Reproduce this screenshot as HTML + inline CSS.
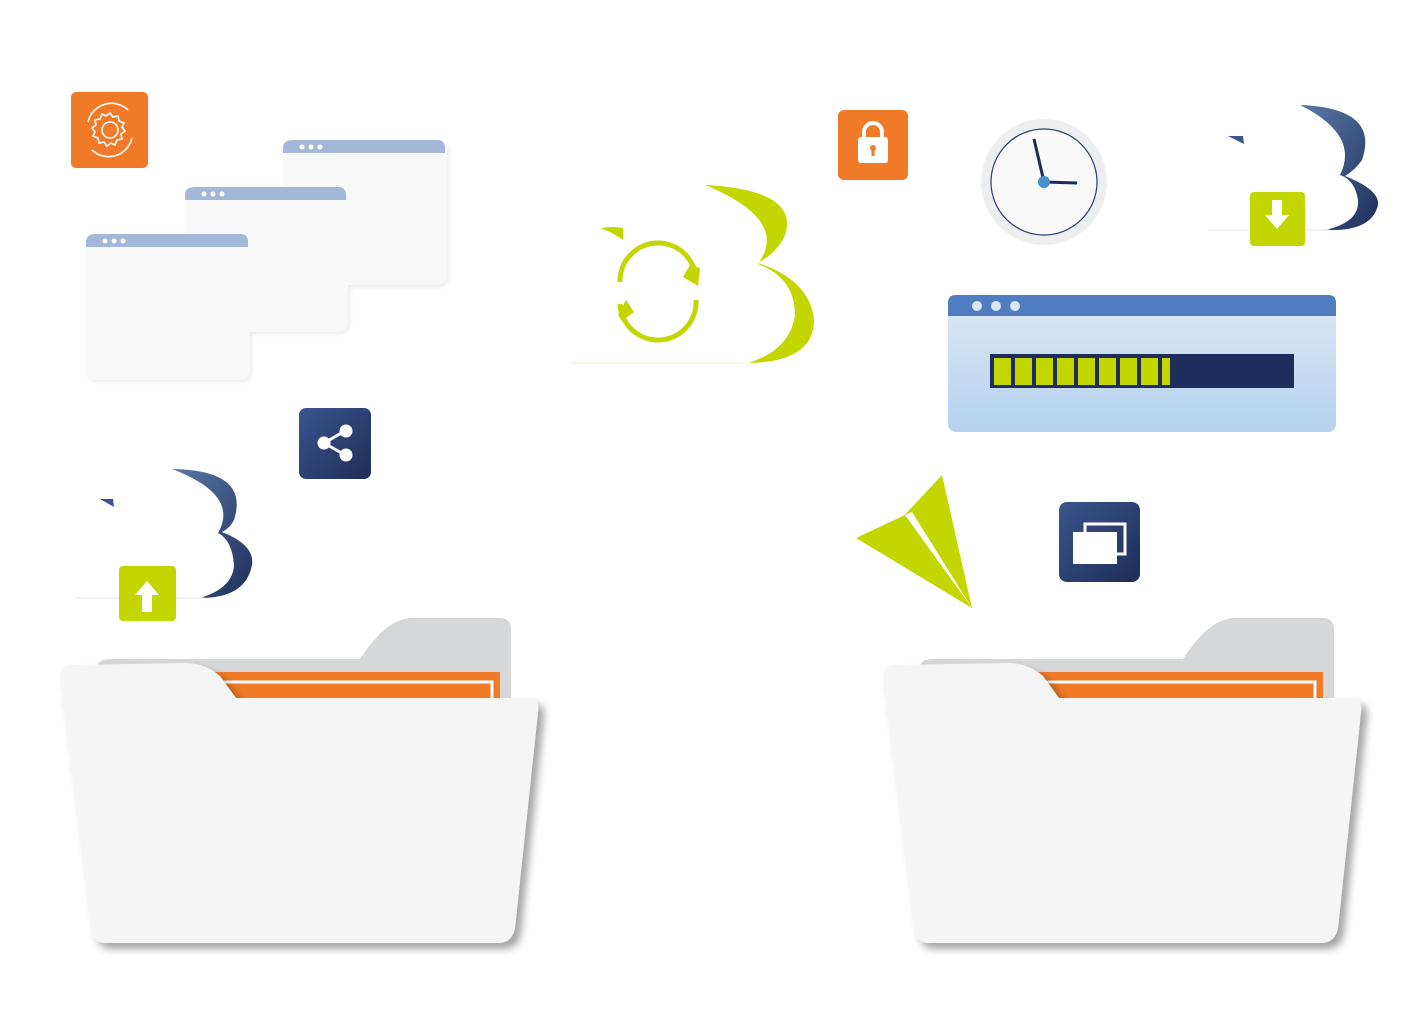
<!DOCTYPE html>
<html><head><meta charset="utf-8"><style>
html,body{margin:0;padding:0;background:#fff;width:1408px;height:1036px;overflow:hidden}
</style></head><body>
<svg width="1408" height="1036" viewBox="0 0 1408 1036" xmlns="http://www.w3.org/2000/svg">
<defs>
<filter id="sh" x="-10%" y="-10%" width="130%" height="130%"><feDropShadow dx="6" dy="6" stdDeviation="4" flood-color="#000" flood-opacity="0.35"/></filter>
<filter id="sw" x="-10%" y="-10%" width="130%" height="130%"><feDropShadow dx="2" dy="2" stdDeviation="2" flood-color="#000" flood-opacity="0.08"/></filter>
<linearGradient id="bl" x1="0" y1="0" x2="1" y2="1"><stop offset="0" stop-color="#5a78a8"/><stop offset="1" stop-color="#1e2f5a"/></linearGradient>
<linearGradient id="pw" x1="0" y1="0" x2="0" y2="1"><stop offset="0" stop-color="#dce8f5"/><stop offset="1" stop-color="#b5d2ee"/></linearGradient>
<linearGradient id="nv" x1="0" y1="0" x2="1" y2="1"><stop offset="0" stop-color="#3b5590"/><stop offset="1" stop-color="#1e2d55"/></linearGradient>
<g id="folder">
<path d="M97,668 Q97,659 110,659 L360,659 Q385,620 410,618 L500,618 Q511,618 511,630 L511,700 L97,700 Z" fill="#d6d7d9"/>
<rect x="205" y="672" width="295" height="30" fill="#f07a28"/>
<path d="M210,682 L492,682 L492,700" fill="none" stroke="#fff" stroke-width="3"/>
<path d="M72,665 L185,663 Q205,663 220,676 L236,698 L528,698 Q540,698 538,712 L515,928 Q512,943 498,943 L106,943 Q93,943 91,930 L60,680 Q59,665 72,665 Z" fill="#f5f5f5" filter="url(#sh)"/>
</g>
</defs>

<!-- orange gear icon -->
<rect x="71" y="92" width="77" height="76" rx="5" fill="#f07a28"/>
<g fill="none" stroke="#fff" stroke-width="1.6">
<circle cx="110" cy="130" r="8"/>
<path d="M110,113 l3,4 5,-1 1,5 5,2 -2,4 3,4 -4,3 1,5 -5,1 -2,5 -4,-2 -4,3 -3,-4 -5,1 -1,-5 -5,-2 2,-4 -3,-4 4,-3 -1,-5 5,-1 2,-5 4,2 z"/>
<path d="M88,122 A24,24 0 0 1 128,110"/><path d="M132,138 A24,24 0 0 1 92,150"/>
</g>

<!-- stacked windows -->
<g filter="url(#sw)">
<rect x="283" y="140" width="164" height="145" rx="10" fill="#f8f8f8"/>
<path d="M283,153 L283,148 Q283,140 293,140 L437,140 Q445,140 445,148 L445,153 Z" fill="#a3b8d8"/>
<rect x="185" y="187" width="163" height="145" rx="10" fill="#f8f8f8"/>
<path d="M185,200 L185,195 Q185,187 195,187 L338,187 Q346,187 346,195 L346,200 Z" fill="#a3b8d8"/>
<rect x="86" y="234" width="164" height="146" rx="10" fill="#f8f8f8"/>
<path d="M86,247 L86,242 Q86,234 96,234 L240,234 Q248,234 248,242 L248,247 Z" fill="#a3b8d8"/>
</g>
<g fill="#fff"><circle cx="302" cy="147" r="2.5"/><circle cx="311" cy="147" r="2.5"/><circle cx="320" cy="147" r="2.5"/>
<circle cx="204" cy="194" r="2.5"/><circle cx="213" cy="194" r="2.5"/><circle cx="222" cy="194" r="2.5"/>
<circle cx="105" cy="241" r="2.5"/><circle cx="114" cy="241" r="2.5"/><circle cx="123" cy="241" r="2.5"/></g>

<!-- share icon -->
<rect x="299" y="408" width="72" height="71" rx="7" fill="url(#nv)"/>
<g fill="#fff" stroke="#fff" stroke-width="3"><line x1="324" y1="443" x2="345" y2="431"/><line x1="324" y1="443" x2="345" y2="455"/>
<circle cx="324" cy="443" r="5"/><circle cx="346" cy="431" r="5"/><circle cx="346" cy="455" r="5"/></g>

<!-- green sync cloud -->
<path d="M705,185 Q800,190 785,235 Q778,252 758,263 Q810,280 814,320 Q814,362 748,363 Q790,350 795,315 Q795,278 758,264 Q790,220 705,185 Z" fill="#c3d600"/>
<path d="M600,228 Q615,226 623,228 L623,240 Q612,232 600,228 Z" fill="#c3d600"/>
<line x1="570" y1="363" x2="750" y2="363" stroke="#eef3cc" stroke-width="1"/>
<g fill="none" stroke="#c3d600" stroke-width="5">
<path d="M620,282 A38,38 0 0 1 696,280"/><path d="M696,300 A38,38 0 0 1 620,304"/></g>
<g fill="#c3d600"><path d="M690,265 L700,268 L698,286 L683,277 Z"/><path d="M626,300 L618,315 L622,321 L634,312 Z"/></g>

<!-- lock -->
<rect x="838" y="110" width="70" height="70" rx="6" fill="#f07a28"/>
<path d="M864,138 v-6 a9,9 0 0 1 18,0 v6" fill="none" stroke="#fff" stroke-width="4"/>
<rect x="858" y="137" width="30" height="26" rx="3" fill="#fff"/>
<circle cx="873" cy="148" r="3" fill="#f07a28"/><rect x="871.5" y="149" width="3" height="7" fill="#f07a28"/>

<!-- clock -->
<circle cx="1044" cy="182" r="63" fill="#eceeef"/>
<circle cx="1044" cy="182" r="53" fill="#f8f9f8" stroke="#2c3f70" stroke-width="1.2"/>
<line x1="1044" y1="182" x2="1034" y2="139" stroke="#1e2d55" stroke-width="3"/>
<line x1="1044" y1="182" x2="1077" y2="183" stroke="#1e2d55" stroke-width="3"/>
<circle cx="1044" cy="182" r="6" fill="#4a8fd0"/>

<!-- blue cloud top right -->
<path d="M1300,105 Q1380,108 1362,160 Q1355,170 1345,176 Q1380,190 1378,205 Q1372,232 1325,230 Q1360,222 1358,200 Q1355,180 1340,175 Q1360,135 1300,105 Z" fill="url(#bl)"/>
<path d="M1228,136 L1243,136 L1244,144 Z" fill="#3b5590"/>
<line x1="1208" y1="230" x2="1330" y2="230" stroke="#dde3ee"/>
<rect x="1250" y="192" width="55" height="54" rx="4" fill="#c3d600"/>
<path d="M1272,200 h10 v15 h7 l-12,14 -12,-14 h7 z" fill="#fff"/>

<!-- progress window -->
<rect x="948" y="295" width="388" height="137" rx="8" fill="url(#pw)"/>
<path d="M948,316 L948,303 Q948,295 956,295 L1328,295 Q1336,295 1336,303 L1336,316 Z" fill="#4f7dbf"/>
<g fill="#dbe6f3"><circle cx="977" cy="306" r="5"/><circle cx="996" cy="306" r="5"/><circle cx="1015" cy="306" r="5"/></g>
<rect x="990" y="354" width="304" height="34" fill="#1f2d5c"/>
<g fill="#c3d600">
<rect x="994" y="358" width="17" height="27"/><rect x="1015" y="358" width="17" height="27"/><rect x="1036" y="358" width="17" height="27"/>
<rect x="1057" y="358" width="17" height="27"/><rect x="1078" y="358" width="17" height="27"/><rect x="1099" y="358" width="17" height="27"/>
<rect x="1120" y="358" width="17" height="27"/><rect x="1141" y="358" width="17" height="27"/><rect x="1162" y="358" width="8" height="27"/></g>

<!-- blue cloud left -->
<path d="M172,469 Q250,470 234,520 Q230,528 222,532 Q255,545 252,565 Q246,598 200,598 Q233,588 234,565 Q232,540 218,533 Q240,495 172,469 Z" fill="url(#bl)"/>
<path d="M100,499 L113,499 L114,507 Z" fill="#3b5590"/>
<line x1="75" y1="598" x2="205" y2="598" stroke="#dde3ee"/>
<rect x="119" y="566" width="57" height="55" rx="4" fill="#c3d600"/>
<path d="M142,612 h10 v-17 h7 l-12,-14 -12,14 h7 z" fill="#fff"/>

<!-- paper plane -->
<path d="M856,538 L905,515 L972,608 Z" fill="#c3d600"/>
<path d="M900,520 L942,475 L972,608 Z" fill="#c3d600"/>
<path d="M905,515 L972,608 L912,512 Z" fill="#fff"/>

<!-- windows icon -->
<rect x="1059" y="502" width="81" height="80" rx="8" fill="url(#nv)"/>
<rect x="1085" y="524" width="40" height="30" fill="none" stroke="#fff" stroke-width="3"/>
<rect x="1073" y="532" width="44" height="32" fill="#fff"/>
<rect x="1073" y="532" width="44" height="5" fill="#fff"/>

<use href="#folder"/>
<use href="#folder" transform="translate(823,0)"/>
</svg>
</body></html>
